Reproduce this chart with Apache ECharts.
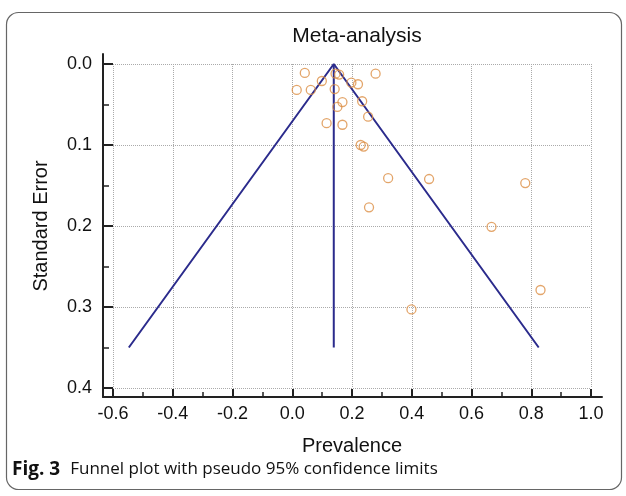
<!DOCTYPE html>
<html>
<head>
<meta charset="utf-8">
<script src="https://cdn.jsdelivr.net/npm/echarts@6/dist/echarts.min.js"></script>
<style>
  html, body { margin: 0; padding: 0; background: #fff; }
  #chart { width: 626px; height: 496px; }
</style>
</head>
<body>
<div id="chart"></div>
<script>
// study estimates
var prevalence = [0.042, 0.015, 0.062, 0.099, 0.145, 0.157, 0.142, 0.198, 0.220, 0.279,
  0.168, 0.151, 0.234, 0.254, 0.115, 0.168, 0.229, 0.239, 0.321, 0.458,
  0.780, 0.667, 0.831, 0.399, 0.257];
var stdError = [0.011, 0.032, 0.032, 0.021, 0.012, 0.013, 0.031, 0.023, 0.025, 0.012,
  0.047, 0.053, 0.046, 0.065, 0.073, 0.075, 0.100, 0.102, 0.141, 0.142,
  0.147, 0.201, 0.279, 0.303, 0.177];

// funnel: pooled estimate and 95% limits at the largest SE
var funnelSE = [0.35, 0.0, 0.35];
var funnelX = [-0.547, 0.139, 0.825];
var pooledX = [0.139, 0.139];
var pooledSE = [0.0, 0.35];

var xTicks = [-0.6, 1.0, 0.2];
var yTicks = [0.0, 0.4, 0.1];

var points = prevalence.map(function (v, i) { return [v, stdError[i]]; });
var funnel = funnelX.map(function (v, i) { return [v, funnelSE[i]]; });
var pooled = pooledX.map(function (v, i) { return [v, pooledSE[i]]; });

var dom = document.getElementById("chart");
var myChart = echarts.init(dom, null, { renderer: "canvas" });

var lineColor = "#2b2b8c";
var axisColor = "#222";
var font = "Liberation Sans, Arial, sans-serif";

var option = {
  animation: false,
  title: {
    text: "Meta-analysis",
    left: 352,
    top: 21,
    textAlign: "center",
    textStyle: { color: "#111", fontSize: 21, fontWeight: "normal", fontFamily: font },
  },
  grid: [
    { left: 113, right: 35, top: 64, bottom: 108 },
    // frame for the axis lines
    { left: 103, right: 24, top: 54, bottom: 99 },
  ],
  xAxis: [
    {
      type: "value",
      gridIndex: 0,
      position: "bottom",
      min: xTicks[0],
      max: xTicks[1],
      interval: xTicks[2],
      offset: 9,
      name: "Prevalence",
      nameLocation: "middle",
      nameGap: 39,
      nameTextStyle: { color: "#111", fontSize: 20, fontFamily: font },
      axisLine: { show: false, onZero: false },
      axisTick: { inside: true, length: 8, lineStyle: { color: axisColor, width: 2 } },
      minorTick: { show: true, splitNumber: 2, length: 5, lineStyle: { color: axisColor, width: 1.5 } },
      axisLabel: {
        color: "#111",
        fontSize: 18,
        fontFamily: font,
        margin: 8,
        formatter: function (v) { return v.toFixed(1); },
      },
      splitLine: { show: true, lineStyle: { color: "#aaa", type: "dotted", width: 1 } },
    },
    {
      type: "value",
      gridIndex: 1,
      min: 0,
      max: 1,
      axisLine: { show: true, onZero: false, lineStyle: { color: axisColor, width: 2 } },
      axisTick: { show: false },
      axisLabel: { show: false },
      splitLine: { show: false },
    },
  ],
  yAxis: [
    {
      type: "value",
      gridIndex: 0,
      position: "left",
      inverse: true,
      min: yTicks[0],
      max: yTicks[1],
      interval: yTicks[2],
      offset: 10,
      name: "Standard Error",
      nameLocation: "middle",
      nameGap: 52,
      nameRotate: 90,
      nameTextStyle: { color: "#111", fontSize: 20, fontFamily: font },
      axisLine: { show: false, onZero: false },
      axisTick: { inside: true, length: 10, lineStyle: { color: axisColor, width: 2 } },
      minorTick: { show: true, splitNumber: 2, length: 6, lineStyle: { color: axisColor, width: 1.5 } },
      axisLabel: {
        color: "#111",
        fontSize: 18,
        fontFamily: font,
        margin: 11,
        formatter: function (v) { return v.toFixed(1); },
      },
      splitLine: { show: true, lineStyle: { color: "#aaa", type: "dotted", width: 1 } },
    },
    {
      type: "value",
      gridIndex: 1,
      min: 0,
      max: 1,
      axisLine: { show: true, onZero: false, lineStyle: { color: axisColor, width: 2 } },
      axisTick: { show: false },
      axisLabel: { show: false },
      splitLine: { show: false },
    },
  ],
  series: [
    {
      name: "funnel",
      type: "line",
      data: funnel,
      symbol: "none",
      lineStyle: { color: lineColor, width: 2 },
      z: 3,
    },
    {
      name: "pooled",
      type: "line",
      data: pooled,
      symbol: "none",
      lineStyle: { color: lineColor, width: 2 },
      z: 3,
    },
    {
      name: "studies",
      type: "scatter",
      data: points,
      symbol: "circle",
      symbolSize: 9,
      itemStyle: { color: "rgba(255,255,255,0)", borderColor: "#dc8f45", borderWidth: 1.3 },
      z: 4,
    },
  ],
  graphic: [
    {
      type: "rect",
      shape: { x: 6.5, y: 12.5, width: 615, height: 477, r: 12 },
      style: { fill: "none", stroke: "#666", lineWidth: 1.2 },
      silent: true,
    },
    {
      type: "text",
      left: 12,
      top: 460,
      style: {
        text: "{b|Fig. 3}   {n|Funnel plot with pseudo 95% confidence limits}",
        rich: {
          b: { fontFamily: "Open Sans, sans-serif", fontWeight: "bold", fontSize: 19, fill: "#111" },
          n: { fontFamily: "Open Sans, sans-serif", fontSize: 17, fill: "#111" },
        },
      },
    },
  ],
};

myChart.setOption(option);
window.addEventListener("resize", myChart.resize);
</script>
</body>
</html>
